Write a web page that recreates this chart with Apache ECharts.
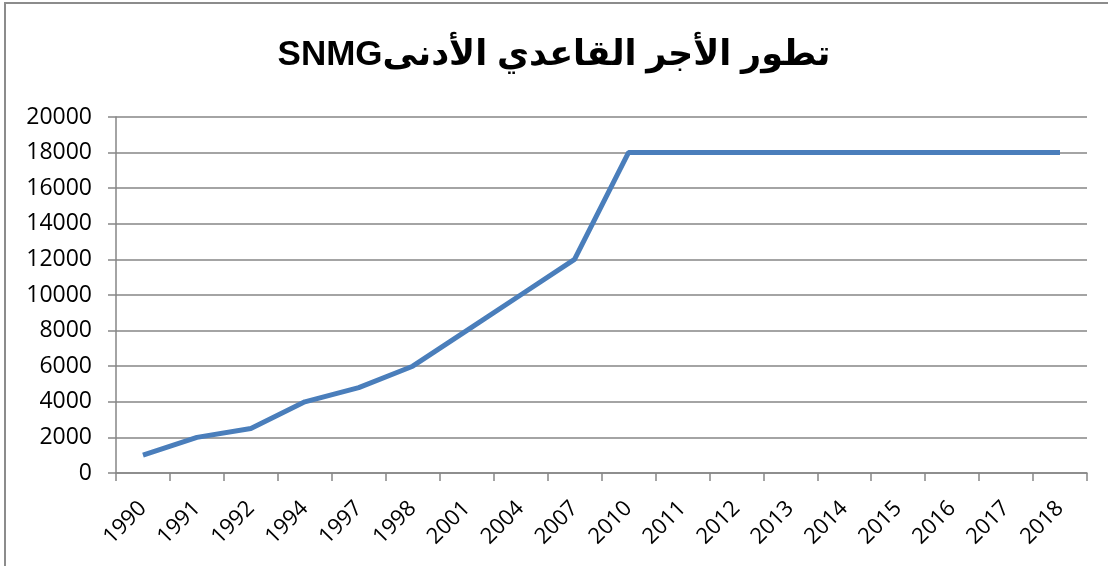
<!DOCTYPE html>
<html lang="ar">
<head>
    <meta charset="UTF-8">
    <title>SNMG</title>
    <script src="https://cdn.jsdelivr.net/npm/echarts@6/dist/echarts.min.js"></script>
</head>
<style>
    html,body{
        margin:0;
        padding:0;
        background:#fff;
    }
    #chart{
        width:1108px;
        height:566px;
    }
</style>
<body>
    <div id="chart"></div>
    <script>
        // years and minimum wage values
        var years=['1990','1991','1992','1994','1997','1998','2001','2004','2007','2010',
            '2011','2012','2013','2014','2015','2016','2017','2018'];
        var snmg=[1000,2000,2500,4000,4800,6000,8000,10000,12000,18000,
            18000,18000,18000,18000,18000,18000,18000,18000];
        var titleText='تطور الأجر القاعدي الأدنىSNMG';

        var chart=echarts.init(document.getElementById('chart'));
        var gray='#868686';
        var option={
            backgroundColor:'#fff',
            animation:false,
            title:{
                // RLE ... PDF so the latin part lands on the left like in RTL
                text:'\u202B'+titleText+'\u202C',
                left:'center',
                top:33,
                textStyle:{
                    fontFamily:'"Liberation Sans", "DejaVu Sans", sans-serif',
                    fontSize:35,
                    fontWeight:'bold',
                    color:'#000'
                }
            },
            graphic:[{
                type:'rect',
                shape:{x:5,y:3,width:1120,height:620},
                style:{fill:'none',stroke:'#8c8c8c',lineWidth:2},
                silent:true
            }],
            grid:{left:116,right:21,top:117,bottom:93},
            xAxis:{
                type:'category',
                data:years,
                boundaryGap:true,
                axisLine:{lineStyle:{color:gray,width:1.5}},
                axisTick:{show:true,length:8,lineStyle:{color:gray,width:1.5}},
                axisLabel:{
                    rotate:45,
                    interval:0,
                    margin:32,
                    fontFamily:'"Open Sans", sans-serif',
                    fontSize:22,
                    color:'#000'
                },
                splitLine:{show:false}
            },
            yAxis:{
                type:'value',
                min:0,
                max:20000,
                interval:2000,
                axisLine:{show:true,lineStyle:{color:gray,width:1.5}},
                axisTick:{show:true,length:8,lineStyle:{color:gray,width:1.5}},
                axisLabel:{
                    margin:24,
                    formatter:function(v){return String(v);},
                    fontFamily:'"Open Sans", sans-serif',
                    fontSize:23,
                    color:'#000'
                },
                splitLine:{lineStyle:{color:gray,width:1.5}}
            },
            series:[{
                type:'line',
                data:snmg,
                showSymbol:false,
                lineStyle:{color:'#4a7ebb',width:5},
                itemStyle:{color:'#4a7ebb'}
            }]
        };
        chart.setOption(option);
    </script>
</body>
</html>
